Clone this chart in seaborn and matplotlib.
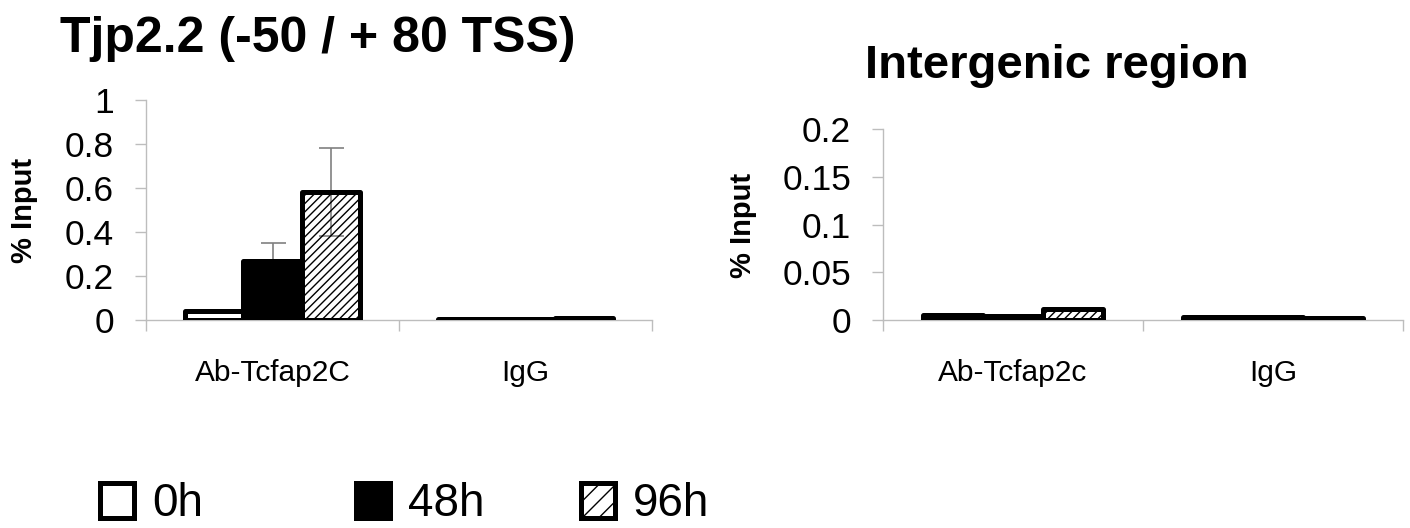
import numpy as np
import pandas as pd
import matplotlib
matplotlib.use("Agg")
import matplotlib.pyplot as plt
from matplotlib.patches import Patch
from matplotlib.ticker import FixedLocator
import seaborn as sns

# ---------------- data ----------------
times = ["0h", "48h", "96h"]

left_title = "Tjp2.2 (-50 / + 80 TSS)"
left_categories = ["Ab-Tcfap2C", "IgG"]
left_0h = [0.04, 0.005]
left_48h = [0.27, 0.005]
left_96h = [0.58, 0.008]
left_err_48h = [0.08, 0.0]
left_err_96h = [0.20, 0.0]
left_yticks = [0, 0.2, 0.4, 0.6, 0.8, 1.0]
left_yticklabels = ["0", "0.2", "0.4", "0.6", "0.8", "1"]

right_title = "Intergenic region"
right_categories = ["Ab-Tcfap2c", "IgG"]
right_0h = [0.005, 0.003]
right_48h = [0.004, 0.003]
right_96h = [0.012, 0.002]
right_yticks = [0, 0.05, 0.1, 0.15, 0.2]
right_yticklabels = ["0", "0.05", "0.1", "0.15", "0.2"]

ylabel = "% Input"

# ---------------- style ----------------
sns.set_theme(style="white")
plt.rcParams["font.family"] = ["Liberation Sans", "DejaVu Sans"]
plt.rcParams["text.color"] = "black"
plt.rcParams["axes.labelcolor"] = "black"
plt.rcParams["xtick.labelcolor"] = "black"
plt.rcParams["ytick.labelcolor"] = "black"
plt.rcParams["hatch.linewidth"] = 1.0
plt.rcParams["hatch.color"] = "black"

GRAY = "#bdbdbd"
EDGE_LW = 3.6

fig = plt.figure(figsize=(14.1, 5.28), dpi=100)
W, H = 1410, 528


def make_axes(x0, x1, y0px, ytop_px):
    return fig.add_axes([x0 / W, (H - y0px) / H, (x1 - x0) / W, (y0px - ytop_px) / H])


axL = make_axes(146, 652, 320, 100)
axR = make_axes(883, 1403, 320, 129)


def draw_panel(ax, cats, v0, v1, v2, ylim, yticks, yticklabels, errs=None):
    df = pd.DataFrame({
        "target": cats * 3,
        "time": [times[0]] * len(cats) + [times[1]] * len(cats) + [times[2]] * len(cats),
        "value": list(v0) + list(v1) + list(v2),
    })
    sns.barplot(data=df, x="target", y="value", hue="time", hue_order=times,
                order=cats, palette=["white", "black", "white"], width=0.69,
                errorbar=None, legend=False, ax=ax, saturation=1)
    styles = [dict(fc="white", hatch=None), dict(fc="black", hatch=None),
              dict(fc="none", hatch="////")]
    for cont, st in zip(ax.containers, styles):
        for p in cont.patches:
            p.set_facecolor(st["fc"])
            p.set_edgecolor("black")
            p.set_linewidth(EDGE_LW)
            p.set_joinstyle("round")
            p.set_zorder(3)
            if st["hatch"]:
                p.set_hatch(st["hatch"])
    if errs is not None:
        for cont, err in zip(ax.containers, errs):
            if err is None:
                continue
            xs = [p.get_x() + p.get_width() / 2 for p in cont.patches]
            ys = [p.get_height() for p in cont.patches]
            mask = [e > 0 for e in err]
            ax.errorbar([x for x, m in zip(xs, mask) if m],
                        [y for y, m in zip(ys, mask) if m],
                        yerr=[e for e, m in zip(err, mask) if m],
                        fmt="none", ecolor="#808080", elinewidth=1.2,
                        capsize=9, capthick=1.2, zorder=2)
    ax.set_xlim(-0.5, 1.5)
    ax.set_ylim(*ylim)
    ax.set_yticks(yticks)
    ax.set_yticklabels(yticklabels)
    ax.set_xlabel("")
    ax.set_ylabel("")
    for s in ["top", "right"]:
        ax.spines[s].set_visible(False)
    for s in ["left", "bottom"]:
        ax.spines[s].set_color(GRAY)
        ax.spines[s].set_linewidth(1.0)
        ax.spines[s].set_zorder(1)
    ax.tick_params(axis="y", which="major", direction="out", length=8, width=1.0,
                   color=GRAY, labelcolor="black", labelsize=25.5, pad=15, left=True)
    ax.tick_params(axis="x", which="major", length=0, labelsize=21.5,
                   labelcolor="black", pad=28, bottom=True)
    ax.xaxis.set_minor_locator(FixedLocator([-0.5, 0.5, 1.5]))
    ax.tick_params(axis="x", which="minor", direction="out", length=8, width=1.0,
                   color=GRAY, bottom=True)
    ax.set_facecolor("white")


draw_panel(axL, left_categories, left_0h, left_48h, left_96h, (0, 1.0),
           left_yticks, left_yticklabels,
           errs=[None, left_err_48h, left_err_96h])
draw_panel(axR, right_categories, right_0h, right_48h, right_96h, (0, 0.2),
           right_yticks, right_yticklabels)

# titles
fig.text(60 / W, (H - 52) / H, left_title, fontsize=36, fontweight="bold",
         ha="left", va="baseline", color="black")
fig.text(865 / W, (H - 78) / H, right_title, fontsize=34, fontweight="bold",
         ha="left", va="baseline", color="black")

# y labels
fig.text(24 / W, (H - 210) / H, ylabel, fontsize=21, fontweight="bold",
         rotation=90, ha="center", va="center", color="black")
fig.text(743 / W, (H - 225) / H, ylabel, fontsize=21, fontweight="bold",
         rotation=90, ha="center", va="center", color="black")

# legend (three entries at Excel-like positions)
handles = [
    Patch(facecolor="white", edgecolor="black", linewidth=EDGE_LW),
    Patch(facecolor="black", edgecolor="black", linewidth=EDGE_LW),
    Patch(facecolor="white", edgecolor="black", linewidth=EDGE_LW, hatch="//"),
]
leg_x = [100, 356, 581]
for h, lab, x in zip(handles, times, leg_x):
    fig.legend(handles=[h], labels=[lab], loc="center left",
               bbox_to_anchor=(x / W, (H - 504) / H), frameon=False,
               fontsize=33, handlelength=0.74, handleheight=0.8,
               handletextpad=0.4, borderpad=0, borderaxespad=0,
               labelcolor="black")

fig.savefig("out.png", dpi=100, facecolor="white")
